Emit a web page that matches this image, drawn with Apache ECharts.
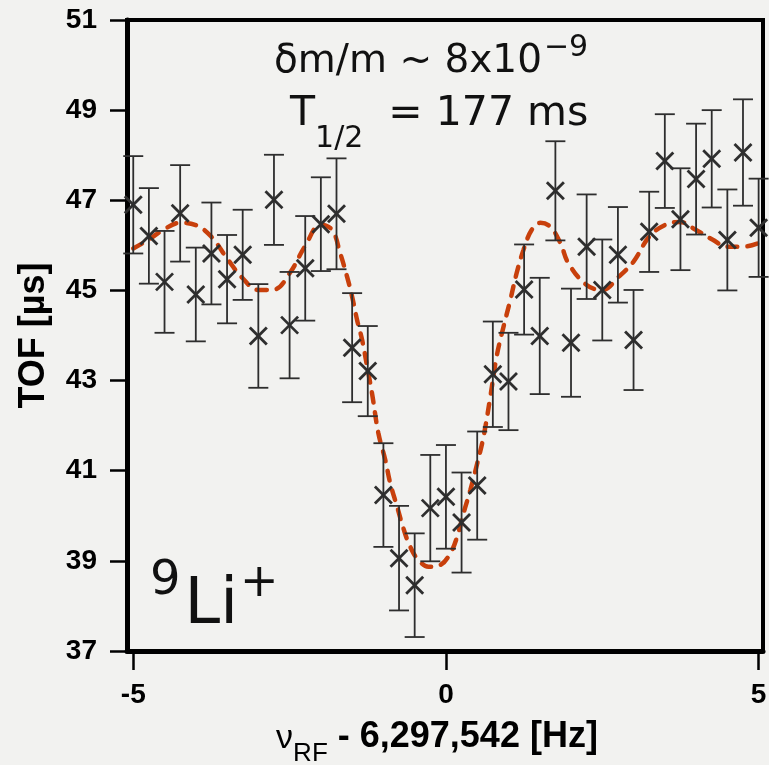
<!DOCTYPE html>
<html>
<head>
<meta charset="utf-8">
<script src="https://cdn.jsdelivr.net/npm/echarts@6/dist/echarts.min.js"></script>
<style>
  html, body { margin: 0; padding: 0; background: #f2f2f0; }
  #chart { width: 769px; height: 765px; }
</style>
</head>
<body>
<div id="chart"></div>
<script>
// frequency offsets [Hz]
const freq = [-5, -4.75, -4.5, -4.25, -4, -3.75, -3.5, -3.25, -3, -2.75, -2.5, -2.25, -2, -1.75,
  -1.5, -1.25, -1, -0.75, -0.5, -0.25, 0, 0.25, 0.5, 0.75, 1, 1.25, 1.5, 1.75, 2, 2.25, 2.5,
  2.75, 3, 3.25, 3.5, 3.75, 4, 4.25, 4.5, 4.75, 5];
// measured TOF [us]
const tof = [46.90, 46.21, 45.19, 46.71, 44.91, 45.82, 45.25, 45.79, 43.99, 47.01, 44.23, 45.49,
  46.47, 46.70, 43.73, 43.21, 40.46, 39.06, 38.46, 40.17, 40.42, 39.85, 40.67, 43.14, 42.98,
  45.02, 43.99, 47.21, 43.84, 45.97, 45.01, 45.79, 43.90, 46.30, 47.87, 46.58, 47.47, 47.92,
  46.12, 48.06, 46.39];
// error bar half-length
const tofErr = [1.08, 1.06, 1.13, 1.07, 1.04, 1.13, 0.98, 1.0, 1.15, 1.0, 1.18, 1.16, 1.04, 1.23,
  1.21, 1.0, 1.15, 1.16, 1.15, 1.18, 1.15, 1.11, 1.2, 1.17, 1.08, 1.0, 1.29, 1.1, 1.2, 1.16,
  1.12, 1.06, 1.11, 0.89, 1.04, 1.13, 1.23, 1.08, 1.12, 1.18, 1.09];
// fit curve
const fitX = [-5, -4.75, -4.5, -4.25, -4, -3.75, -3.5, -3.25, -3, -2.75, -2.5, -2.25, -2.0, -1.82,
  -1.69, -1.58, -1.5, -1.42, -1.34, -1.26, -1.18, -1.08, -0.97, -0.89, -0.78, -0.68, -0.57,
  -0.44, -0.28, -0.09, 0.07, 0.18, 0.28, 0.39, 0.5, 0.6, 0.71, 0.81, 0.92, 1.03, 1.13, 1.24,
  1.37, 1.51, 1.67, 1.83, 1.96, 2.25, 2.5, 2.76, 3.0, 3.25, 3.5, 3.74, 4.0, 4.26, 4.5, 4.75, 5.0];
const fitY = [45.93, 46.13, 46.36, 46.50, 46.45, 46.19, 45.71, 45.27, 45.01, 45.02, 45.38, 45.99,
  46.46, 46.34, 45.82, 45.30, 44.86, 44.34, 43.90, 43.31, 42.70, 41.83, 41.24, 40.72, 40.20,
  39.72, 39.31, 39.02, 38.87, 38.91, 39.17, 39.54, 40.05, 40.57, 41.16, 41.75, 42.64, 43.53,
  44.19, 44.79, 45.38, 45.90, 46.34, 46.50, 46.41, 46.05, 45.60, 45.12, 45.01, 45.30, 45.64,
  46.19, 46.45, 46.52, 46.34, 46.13, 45.97, 45.97, 46.05];
const xTicks = [-5, 0, 5];

const ink = "#2e2e2e";
const fitColor = "#c8400c";
const annoFont = "DejaVu Sans";

const chart = echarts.init(document.getElementById("chart"));

chart.setOption({
  backgroundColor: "#f2f2f0",
  animation: false,
  grid: {
    left: 127,
    right: 6,
    top: 20,
    bottom: 114,
    containLabel: false,
    outerBoundsMode: "none",
    show: true,
    borderColor: "#000",
    borderWidth: 4,
    backgroundColor: "transparent"
  },
  xAxis: {
    type: "value",
    min: -5.1,
    max: 5.07,
    splitLine: { show: false },
    axisLine: { onZero: false, lineStyle: { color: "#000", width: 5 } },
    axisTick: { customValues: xTicks, length: 19, lineStyle: { color: "#000", width: 2.5 } },
    axisLabel: {
      customValues: xTicks,
      margin: 30,
      color: "#000",
      fontFamily: "Liberation Sans",
      fontWeight: "bold",
      fontSize: 28,
      formatter: v => String(v)
    },
    name: "{nu|ν}{sub|RF}{main| - 6,297,542 [Hz]}",
    nameLocation: "middle",
    nameGap: 68,
    nameTextStyle: {
      padding: [0, 16, 0, 0],
      rich: {
        nu: { fontFamily: "Liberation Sans", fontSize: 34, lineHeight: 34, color: "#000",
              verticalAlign: "top", padding: [3, 0, 0, 0] },
        sub: { fontFamily: "Liberation Sans", fontSize: 26, lineHeight: 26, color: "#000",
               verticalAlign: "top", padding: [22, 0, 0, 0] },
        main: { fontFamily: "Liberation Sans", fontWeight: "bold", fontSize: 36, lineHeight: 36,
                color: "#000", verticalAlign: "top", padding: [0, 0, 0, 0] }
      }
    }
  },
  yAxis: {
    type: "value",
    min: 37,
    max: 51,
    interval: 2,
    splitLine: { show: false },
    axisLine: { onZero: false, lineStyle: { color: "#000", width: 5 } },
    axisTick: { length: 17, lineStyle: { color: "#000", width: 2.5 } },
    axisLabel: {
      margin: 30,
      color: "#000",
      fontFamily: "Liberation Sans",
      fontWeight: "bold",
      fontSize: 28
    },
    name: "TOF [µs]",
    nameLocation: "middle",
    nameRotate: 90,
    nameGap: 75,
    nameTextStyle: {
      color: "#000",
      fontFamily: "Liberation Sans",
      fontWeight: "bold",
      fontSize: 36
    }
  },
  graphic: [
    {
      type: "text",
      left: 274,
      top: 33,
      style: {
        text: "{m|δm/m ~ 8x10}{s|−9}",
        rich: {
          m: { fontFamily: annoFont, fontSize: 39, lineHeight: 39, fill: "#111",
               verticalAlign: "top", padding: [9, 0, 0, 0] },
          s: { fontFamily: annoFont, fontSize: 30, lineHeight: 30, fill: "#111",
               verticalAlign: "top", padding: [0, 0, 0, 2] }
        }
      }
    },
    {
      type: "text",
      left: 290,
      top: 94,
      style: {
        text: "{m|T}{s|1/2}{m| = 177 ms}",
        rich: {
          m: { fontFamily: annoFont, fontSize: 41, lineHeight: 41, fill: "#111",
               verticalAlign: "top", padding: [0, 0, 0, 0] },
          s: { fontFamily: annoFont, fontSize: 30, lineHeight: 30, fill: "#111",
               verticalAlign: "top", padding: [30, 12, 0, 0] }
        }
      }
    },
    {
      type: "text",
      left: 150,
      top: 558,
      style: {
        text: "{n|9}{e|Li}{c|+}",
        rich: {
          n: { fontFamily: annoFont, fontSize: 48, lineHeight: 48, fill: "#111",
               verticalAlign: "top", padding: [0, 4, 0, 0] },
          e: { fontFamily: annoFont, fontSize: 64, lineHeight: 64, fill: "#111",
               verticalAlign: "top", padding: [16, 0, 0, 0] },
          c: { fontFamily: annoFont, fontSize: 46, lineHeight: 46, fill: "#111",
               verticalAlign: "top", padding: [3, 0, 0, 2] }
        }
      }
    }
  ],
  series: [
    {
      name: "fit",
      type: "line",
      smooth: 0.4,
      showSymbol: false,
      symbol: "none",
      z: 1,
      lineStyle: { color: fitColor, width: 4.5, type: [10, 10], cap: "round" },
      data: fitX.map((x, i) => [x, fitY[i]])
    },
    {
      name: "TOF",
      type: "custom",
      z: 3,
      renderItem: function (params, api) {
        const x = api.value(0);
        const y = api.value(1);
        const e = api.value(2);
        const c = api.coord([x, y]);
        const hi = api.coord([x, y + e]);
        const lo = api.coord([x, y - e]);
        const cap = 10;
        const s = 8.5;
        const thin = { stroke: ink, lineWidth: 1.8 };
        const thick = { stroke: ink, lineWidth: 2.8 };
        return {
          type: "group",
          children: [
            { type: "line", shape: { x1: c[0], y1: hi[1], x2: c[0], y2: lo[1] }, style: thin },
            { type: "line", shape: { x1: c[0] - cap, y1: hi[1], x2: c[0] + cap, y2: hi[1] }, style: thin },
            { type: "line", shape: { x1: c[0] - cap, y1: lo[1], x2: c[0] + cap, y2: lo[1] }, style: thin },
            { type: "line", shape: { x1: c[0] - s, y1: c[1] - s, x2: c[0] + s, y2: c[1] + s }, style: thick },
            { type: "line", shape: { x1: c[0] - s, y1: c[1] + s, x2: c[0] + s, y2: c[1] - s }, style: thick }
          ]
        };
      },
      data: freq.map((x, i) => [x, tof[i], tofErr[i]])
    }
  ]
});
</script>
</body>
</html>
